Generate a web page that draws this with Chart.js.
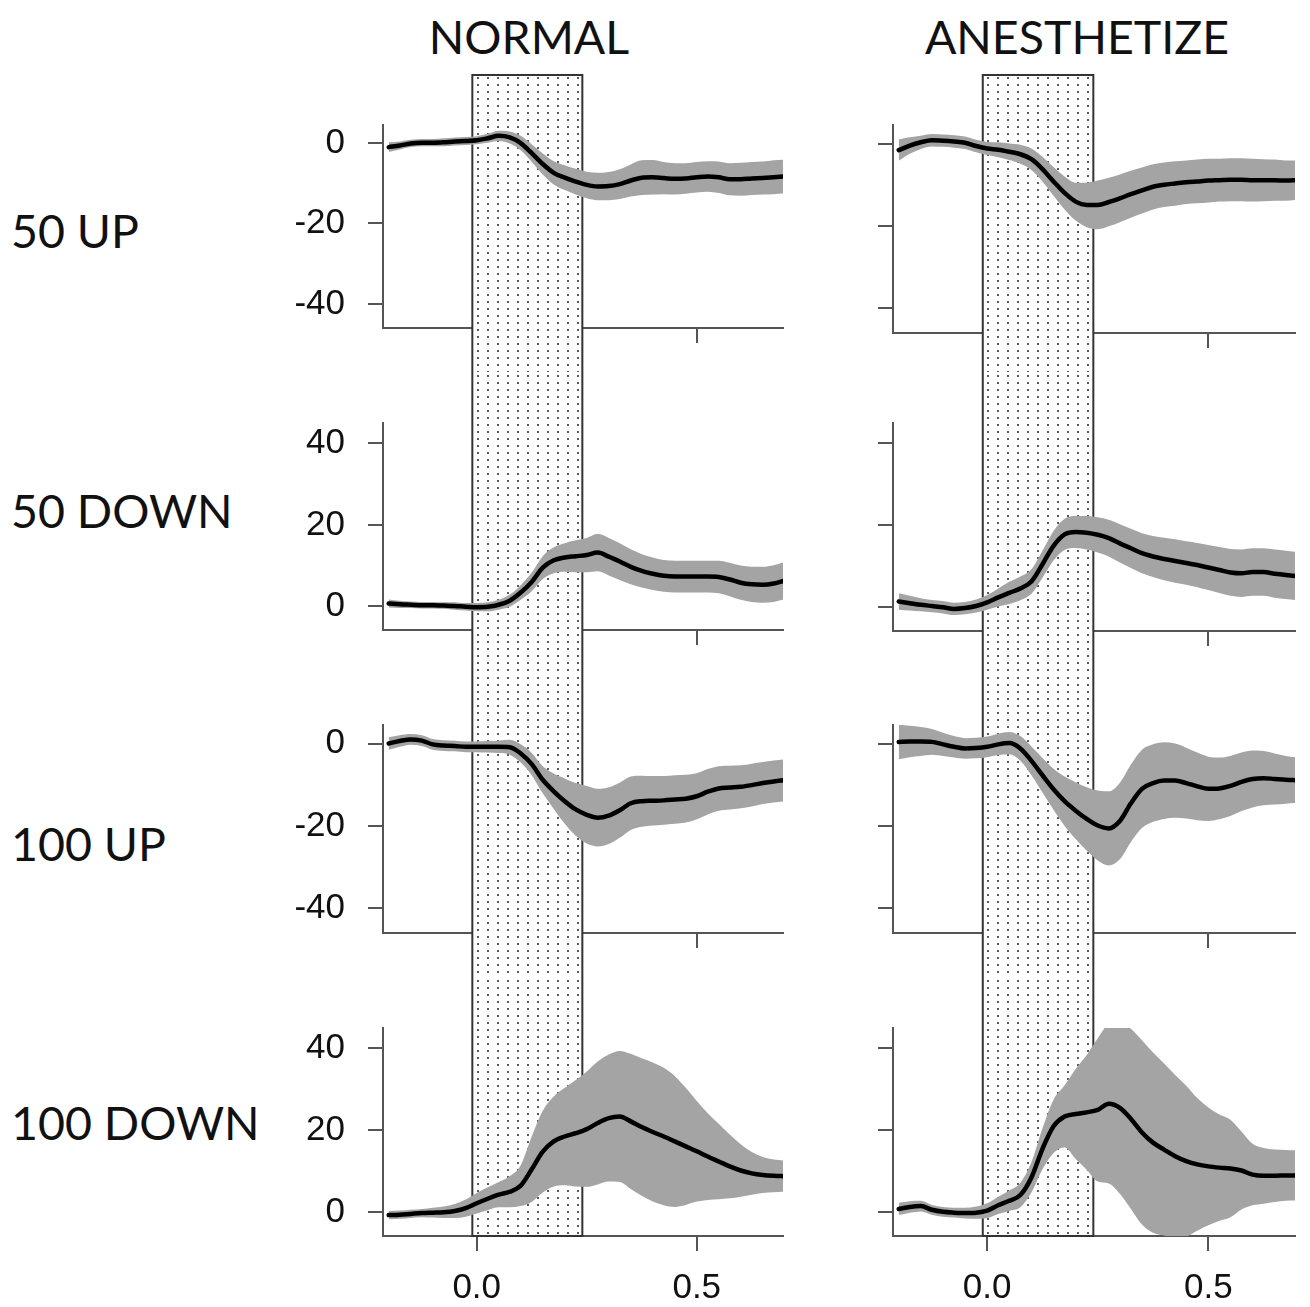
<!DOCTYPE html>
<html><head><meta charset="utf-8">
<script src="https://cdn.jsdelivr.net/npm/chart.js@4.4.0/dist/chart.umd.min.js"></script>
<style>
html,body{margin:0;padding:0;background:#fff;}
#wrap{position:relative;width:1310px;height:1307px;overflow:hidden;background:#fff;}
#wrap canvas{position:absolute;}
.lbl{position:absolute;font-family:Lato,"Noto Sans",sans-serif;font-size:46.5px;color:#111;white-space:nowrap;line-height:1;}
</style></head><body>
<div id="wrap"></div>
<script>
// ---------------- DATA ----------------
const timeSec = [-0.2,-0.175,-0.15,-0.125,-0.1,-0.075,-0.05,-0.025,0,0.025,0.05,0.075,0.1,0.125,0.15,0.175,0.2,0.225,0.25,0.275,0.3,0.325,0.35,0.375,0.4,0.425,0.45,0.475,0.5,0.525,0.55,0.575,0.6,0.625,0.65,0.675,0.7];

const normal50UpMean   = [-1.0,-0.6,-0.1,0.1,0.1,0.2,0.4,0.5,0.7,1.2,1.8,1.4,0.0,-2.5,-5.2,-7.4,-8.6,-9.6,-10.4,-10.8,-10.7,-10.2,-9.3,-8.6,-8.5,-8.7,-8.9,-8.8,-8.5,-8.3,-8.5,-9.0,-9.0,-8.8,-8.7,-8.5,-8.3];
const normal50UpErr    = [1.2,1.0,0.9,0.9,0.9,1.0,1.0,1.0,1.0,1.1,1.3,1.5,1.8,2.2,2.6,2.9,3.1,3.2,3.3,3.4,3.5,3.7,4.0,4.3,4.3,4.0,3.9,3.8,3.8,3.8,3.9,4.0,4.1,4.1,4.1,4.2,4.2];

const normal50DownMean = [0.7,0.5,0.4,0.3,0.3,0.2,0.1,-0.1,-0.2,-0.1,0.4,1.4,3.4,6.0,9.5,11.3,12.0,12.3,12.6,13.2,12.2,11.0,9.7,8.7,8.0,7.5,7.3,7.3,7.3,7.3,7.2,6.6,5.8,5.4,5.3,5.6,6.3];
const normal50DownErr  = [1.0,0.9,0.8,0.8,0.8,0.8,0.9,0.9,1.0,1.1,1.2,1.5,1.8,2.3,2.8,3.2,3.5,3.9,4.2,4.6,4.6,4.5,4.3,4.1,4.0,3.9,3.9,3.9,3.9,3.9,4.0,4.1,4.2,4.3,4.4,4.5,4.6];

const normal100UpMean  = [0.0,0.6,1.0,0.7,-0.2,-0.5,-0.6,-0.8,-0.8,-0.8,-0.8,-0.9,-2.4,-5.0,-8.8,-11.6,-14.0,-16.0,-17.3,-18.0,-17.5,-16.2,-14.5,-14.0,-13.9,-13.8,-13.6,-13.4,-12.8,-11.7,-10.9,-10.7,-10.5,-10.1,-9.6,-9.2,-8.9];
const normal100UpErr   = [1.5,1.4,1.3,1.3,1.3,1.3,1.3,1.3,1.3,1.4,1.5,1.8,2.2,2.7,3.3,4.3,5.5,6.4,7.0,7.0,6.9,6.7,6.5,6.2,6.0,5.9,5.9,5.8,5.6,5.5,5.4,5.3,5.2,5.2,5.1,5.1,5.1];

const normal100DownMean= [-0.7,-0.6,-0.4,-0.2,-0.1,0.0,0.3,1.0,2.2,3.3,4.3,5.0,6.5,10.5,14.8,17.3,18.5,19.3,20.3,21.8,23.0,23.4,22.2,20.8,19.6,18.5,17.3,16.1,14.9,13.6,12.4,11.2,10.2,9.5,9.1,8.9,8.8];
const normal100DownErr = [1.0,1.0,1.0,1.0,1.2,1.4,1.7,2.1,2.5,2.8,3.1,3.8,5.0,8.0,10.0,11.0,11.9,13.0,14.1,15.0,15.5,16.0,16.5,16.8,17.0,16.8,16.0,14.3,12.3,10.6,9.2,7.8,6.4,5.2,4.4,4.0,3.8];

const anes50UpMean     = [-1.6,-0.5,0.3,0.8,0.7,0.5,0.2,-0.6,-1.2,-1.5,-2.0,-2.6,-3.8,-6.2,-9.2,-12.0,-14.1,-14.9,-14.9,-14.2,-13.3,-12.3,-11.4,-10.5,-10.0,-9.7,-9.4,-9.2,-9.0,-8.9,-8.8,-8.8,-8.9,-8.9,-8.9,-9.0,-8.9];
const anes50UpErr      = [2.6,2.0,1.6,1.5,1.5,1.5,1.5,1.5,1.6,1.8,2.0,2.3,2.6,3.0,3.5,4.0,4.6,5.4,5.9,5.9,5.8,5.7,5.6,5.5,5.4,5.4,5.3,5.3,5.3,5.2,5.2,5.2,5.2,5.1,5.0,4.9,4.8];

const anes50DownMean   = [1.4,1.0,0.6,0.3,0.0,-0.4,-0.2,0.3,1.2,2.4,3.5,4.6,6.3,10.5,15.0,17.8,18.4,18.2,17.7,16.9,15.6,14.4,13.2,12.4,11.8,11.3,10.8,10.3,9.7,9.1,8.5,8.3,8.6,8.6,8.2,7.9,7.6];
const anes50DownErr    = [2.0,1.8,1.6,1.5,1.5,1.5,1.5,1.6,1.8,2.2,2.7,2.9,3.0,3.3,3.6,3.8,3.9,4.1,4.3,4.5,4.7,4.8,4.9,5.0,5.2,5.3,5.3,5.4,5.5,5.6,5.7,5.8,5.8,5.8,5.9,5.9,5.9];

const anes100UpMean    = [0.4,0.5,0.5,0.4,-0.2,-0.8,-1.2,-1.1,-0.8,-0.2,0.1,-1.2,-4.2,-7.7,-11.1,-14.0,-16.3,-18.3,-19.9,-20.6,-18.8,-14.5,-11.0,-9.6,-9.0,-9.0,-9.6,-10.4,-11.0,-10.9,-10.3,-9.3,-8.6,-8.4,-8.6,-8.8,-8.9];
const anes100UpErr     = [4.2,3.8,3.5,3.1,2.8,2.6,2.5,2.5,2.5,2.6,2.7,3.0,3.5,4.2,5.0,6.0,6.9,7.7,8.5,9.0,9.3,9.4,9.5,9.4,9.3,9.0,8.6,8.2,7.8,7.5,7.3,7.1,6.9,6.6,6.2,5.8,5.5];

const anes100DownMean  = [0.8,1.3,1.5,0.6,0.1,-0.1,-0.2,-0.1,0.4,1.7,2.8,4.2,8.5,15.5,21.0,23.4,24.0,24.4,25.0,26.5,25.5,22.8,19.5,17.0,15.3,13.7,12.5,11.7,11.2,10.9,10.7,10.2,9.2,8.9,8.9,9.0,9.0];
const anes100DownErr   = [1.5,1.4,1.3,1.2,1.2,1.2,1.3,1.5,1.8,2.1,2.5,3.0,3.7,5.0,6.5,7.6,11.0,14.0,17.5,19.5,21.0,22.0,22.5,22.0,21.0,19.8,18.4,16.2,14.4,13.0,11.9,9.5,7.5,6.8,6.4,6.2,6.1];

const columnTitles = ["NORMAL", "ANESTHETIZE"];
const rowLabels = ["50 UP", "50 DOWN", "100 UP", "100 DOWN"];
const xTickValues = [0, 0.5];
const yTicksUp = [-40, -20, 0];
const yTicksDown = [0, 20, 40];
const yRangeUp = [-46, 4.5];
const yRangeDown = [-5.8, 45];
const xRange = [-0.213, 0.696];
const stimulusWindow = [-0.01, 0.24];

// ---------------- LAYOUT ----------------
const COL_X = [283, 793], COL_W = [510, 517], COL_PAD_R = [10, 15];
const ROW_AREA_TOP = [125, 423, 725, 1028];
const AREA_H = 208, PAD_TOP = 51, Y_AXIS_W = 100, PAGE_H = 1307;
const TITLE_POS = [[529, 36], [1077, 36]];
const ROW_LABEL_Y = [230, 510, 843, 1122];

const wrap = document.getElementById('wrap');
columnTitles.forEach((t, i) => {
  const d = document.createElement('div'); d.className = 'lbl'; d.textContent = t;
  d.style.left = TITLE_POS[i][0] + 'px'; d.style.top = TITLE_POS[i][1] + 'px';
  d.style.transform = 'translate(-50%,-50%)'; wrap.appendChild(d);
});
rowLabels.forEach((t, i) => {
  const d = document.createElement('div'); d.className = 'lbl'; d.textContent = t;
  d.style.left = '11px'; d.style.top = ROW_LABEL_Y[i] + 'px';
  d.style.transform = 'translate(0,-50%)'; wrap.appendChild(d);
});

const stipple = document.createElement('canvas');
stipple.width = 10; stipple.height = 7;
(function(){ const g = stipple.getContext('2d'); g.fillStyle = '#5a5a5a'; g.fillRect(4, 3, 2, 2); })();

const stimPlugin = {
  id: 'stim',
  beforeDatasetsDraw(chart, args, opts) {
    const ctx = chart.ctx, xs = chart.scales.x, area = chart.chartArea;
    const x0 = xs.getPixelForValue(opts.window[0]);
    const x1 = xs.getPixelForValue(opts.window[1]);
    const top = opts.first ? 1 : 0;
    const bot = opts.last ? area.bottom : chart.height;
    ctx.save();
    ctx.fillStyle = '#fff'; ctx.fillRect(x0, top, x1 - x0, bot - top);
    ctx.fillStyle = ctx.createPattern(stipple, 'repeat'); ctx.fillRect(x0, top, x1 - x0, bot - top);
    ctx.strokeStyle = '#333'; ctx.lineWidth = 2;
    ctx.beginPath();
    ctx.moveTo(x0, top); ctx.lineTo(x0, bot);
    ctx.moveTo(x1, top); ctx.lineTo(x1, bot);
    if (opts.first) { ctx.moveTo(x0 - 1, top); ctx.lineTo(x1 + 1, top); }
    if (opts.last) { ctx.moveTo(x0 - 1, bot); ctx.lineTo(x1 + 1, bot); }
    ctx.stroke();
    ctx.restore();
  }
};

const panels = [
  {col:0,row:0,mean:normal50UpMean,err:normal50UpErr,ticks:yTicksUp,range:yRangeUp},
  {col:0,row:1,mean:normal50DownMean,err:normal50DownErr,ticks:yTicksDown,range:yRangeDown},
  {col:0,row:2,mean:normal100UpMean,err:normal100UpErr,ticks:yTicksUp,range:yRangeUp},
  {col:0,row:3,mean:normal100DownMean,err:normal100DownErr,ticks:yTicksDown,range:yRangeDown},
  {col:1,row:0,mean:anes50UpMean,err:anes50UpErr,ticks:yTicksUp,range:yRangeUp},
  {col:1,row:1,mean:anes50DownMean,err:anes50DownErr,ticks:yTicksDown,range:yRangeDown},
  {col:1,row:2,mean:anes100UpMean,err:anes100UpErr,ticks:yTicksUp,range:yRangeUp},
  {col:1,row:3,mean:anes100DownMean,err:anes100DownErr,ticks:yTicksDown,range:yRangeDown}
];

const AXIS_COLOR = '#555';
const TICK_FONT = {family: '"Liberation Sans", Arial, sans-serif', size: 35};

panels.forEach(p => {
  const last = p.row === 3, first = p.row === 0;
  const top = ROW_AREA_TOP[p.row] - PAD_TOP;
  const bottom = last ? PAGE_H : ROW_AREA_TOP[p.row + 1] - PAD_TOP;
  const h = bottom - top, w = COL_W[p.col];
  const cv = document.createElement('canvas');
  cv.width = w; cv.height = h;
  cv.style.left = COL_X[p.col] + 'px'; cv.style.top = top + 'px';
  cv.style.width = w + 'px'; cv.style.height = h + 'px';
  wrap.appendChild(cv);
  const xAxisH = h - PAD_TOP - AREA_H;

  const lower = timeSec.map((t, i) => ({x: t, y: p.mean[i] - p.err[i]}));
  const upper = timeSec.map((t, i) => ({x: t, y: p.mean[i] + p.err[i]}));
  const line = timeSec.map((t, i) => ({x: t, y: p.mean[i]}));

  new Chart(cv.getContext('2d'), {
    type: 'line',
    data: {
      datasets: [
        {data: lower, order: 3, borderWidth: 0, borderColor: 'rgba(0,0,0,0)', pointRadius: 0, fill: false, cubicInterpolationMode: 'monotone'},
        {data: upper, order: 2, borderWidth: 0, borderColor: 'rgba(0,0,0,0)', pointRadius: 0, fill: '-1', backgroundColor: '#a4a4a4', cubicInterpolationMode: 'monotone'},
        {data: line, order: 1, borderWidth: 4.5, borderColor: '#000', pointRadius: 0, fill: false, cubicInterpolationMode: 'monotone', borderCapStyle: 'round', borderJoinStyle: 'round'}
      ]
    },
    options: {
      responsive: false, animation: false, events: [],
      devicePixelRatio: 1,
      layout: {padding: {top: PAD_TOP, right: COL_PAD_R[p.col], left: 0, bottom: 0}},
      plugins: {legend: {display: false}, tooltip: {enabled: false},
        stim: {window: stimulusWindow, first: first, last: last}},
      scales: {
        x: {
          type: 'linear', position: 'bottom', min: xRange[0], max: xRange[1],
          afterBuildTicks: s => { s.ticks = xTickValues.map(v => ({value: v})); },
          afterFit: s => { s.height = xAxisH; },
          grid: {drawOnChartArea: false, drawTicks: true, tickLength: 15, color: AXIS_COLOR, lineWidth: 2},
          border: {display: true, color: AXIS_COLOR, width: 2},
          ticks: {display: last, color: '#111', font: TICK_FONT, padding: 16, maxRotation: 0, autoSkip: false,
            callback: v => Number(v).toFixed(1)}
        },
        y: {
          type: 'linear', position: 'left', min: p.range[0], max: p.range[1],
          afterBuildTicks: s => { s.ticks = p.ticks.map(v => ({value: v})); },
          afterFit: s => { s.width = Y_AXIS_W; },
          grid: {drawOnChartArea: false, drawTicks: true, tickLength: 15, color: AXIS_COLOR, lineWidth: 2},
          border: {display: true, color: AXIS_COLOR, width: 2},
          ticks: {display: p.col === 0, color: '#111', font: TICK_FONT, padding: 23, autoSkip: false,
            callback: v => String(v)}
        }
      }
    },
    plugins: [stimPlugin]
  });
});
</script>
</body></html>
